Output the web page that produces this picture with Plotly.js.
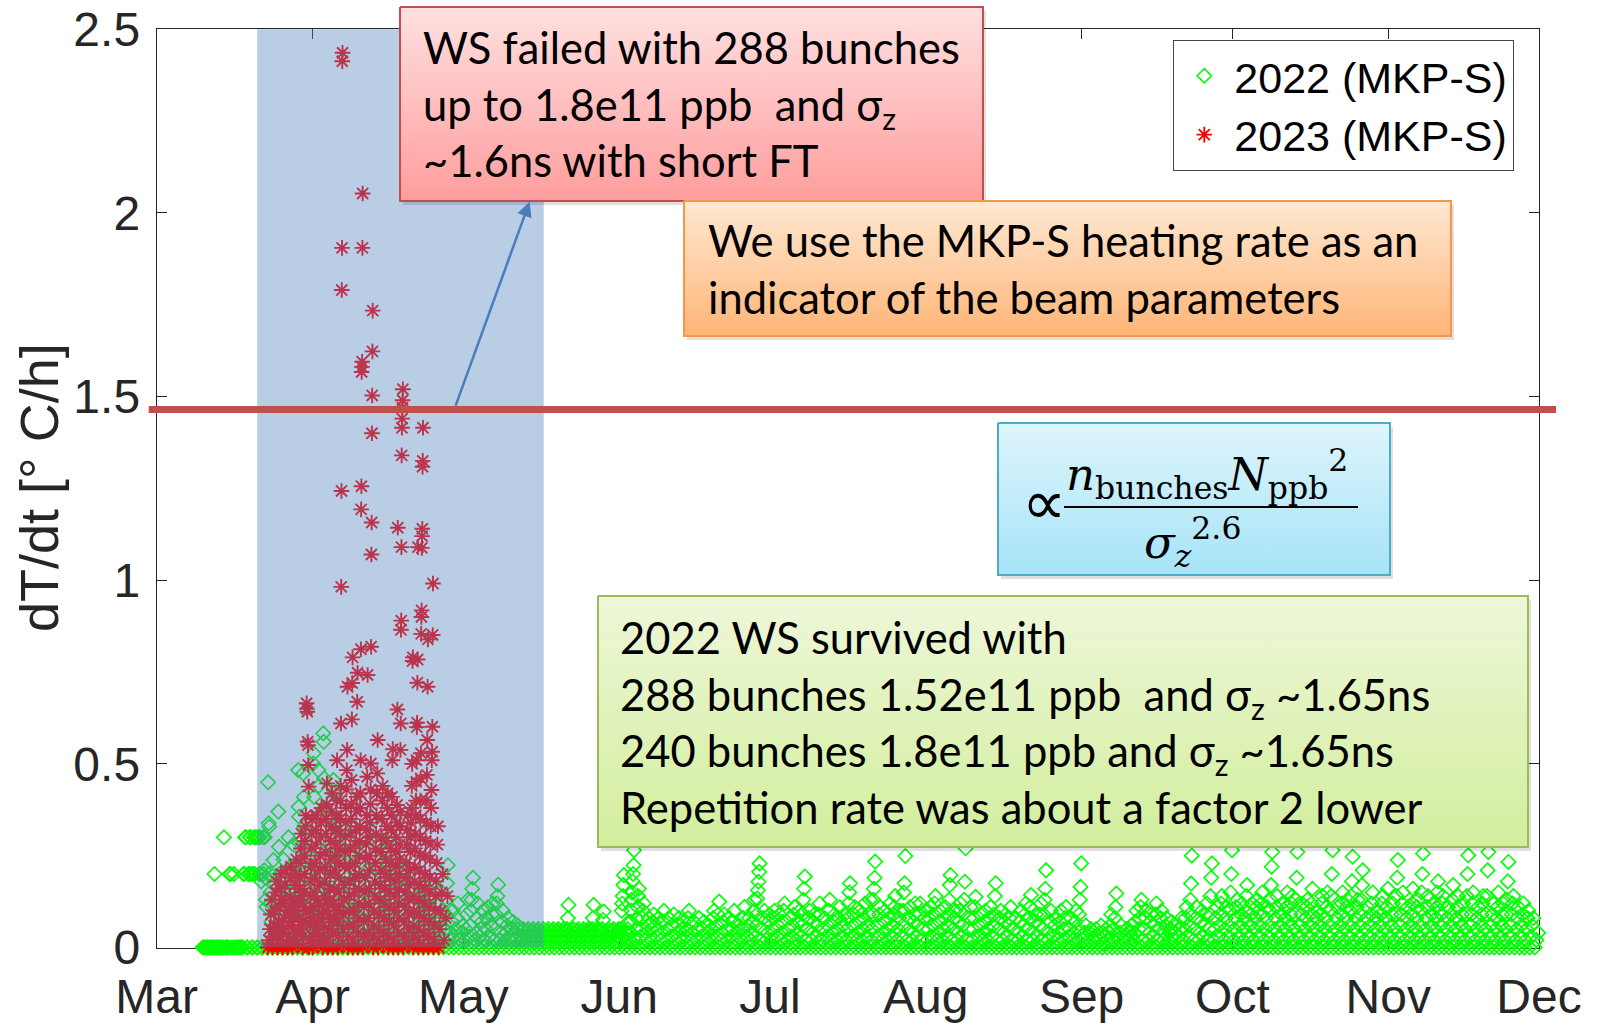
<!DOCTYPE html>
<html><head><meta charset="utf-8">
<script src="https://cdn.plot.ly/plotly-3.0.1.min.js"></script>
<style>html,body{margin:0;padding:0;background:#fff;}#chart{width:1597px;height:1023px;}</style>
</head><body><div id="chart"></div>
<script>
// ================= DATA =================
const month_labels = ['Mar','Apr','May','Jun','Jul','Aug','Sep','Oct','Nov','Dec'];
const month_starts = ['2023-03-01','2023-04-01','2023-05-01','2023-06-01','2023-07-01','2023-08-01','2023-09-01','2023-10-01','2023-11-01','2023-12-01'];
const y_ticks = [0, 0.5, 1, 1.5, 2, 2.5];
const y_ticklabels = ['0', '0.5', '1', '1.5', '2', '2.5'];
const shade_start = '2023-03-21';
const shade_end = '2023-05-17';
const threshold = 1.465;
const series_names = ['2022 (MKP-S)', '2023 (MKP-S)'];

// 2022 (MKP-S): readings per day of each month (dT/dt, deg C/h)
const g22_mar = [[],[],[],[],[],[],[],[],[],
 [0,0,0,0],[0,0,0,0],[0,0,0.2,0,0],[0,0,0,0],[0,0.3,0,0],[0,0,0.2,0.2,0],[0,0.2,0,0],[0,0,0,0],
 [0,0.2,0.2,0.3,0.3,0],[0,0.2,0.2,0.3,0.3,0.2,0],[0,0.2,0.3,0.2,0.3,0.3,0],[0,0.3,0.2,0.3,0.2,0.18,0],
 [0,0.3,0.2,0.21,0.3,0.19,0.13,0.11,0],[0,0.45,0.338,0.329,0.202,0.15,0.12,0.07,0],[0,0.238,0.17,0.1,0.06,0.03,0],
 [0,0.37,0.274,0.2,0.14,0.09,0.05,0],[0,0.24,0.16,0.11,0.07,0.03,0],[0,0.3,0.21,0.15,0.1,0.05,0],
 [0,0.28,0.22,0.16,0.12,0.08,0.04,0],[0,0.483,0.383,0.356,0.284,0.229,0.18,0.13,0.08,0.03,0],
 [0,0.474,0.41,0.33,0.26,0.19,0.14,0.09,0.05,0],[0,0.32,0.25,0.2,0.15,0.1,0.06,0]];
const g22_apr = [
 [0,0.501,0.529,0.41,0.3,0.22,0.17,0.12,0.08,0.04,0],[0,0.483,0.44,0.36,0.27,0.2,0.15,0.1,0.05,0],
 [0,0.583,0.56,0.461,0.38,0.29,0.22,0.16,0.11,0.06,0],[0,0.35,0.28,0.21,0.15,0.1,0.05,0],
 [0,0.456,0.42,0.33,0.25,0.18,0.12,0.07,0.03,0],[0,0.31,0.24,0.18,0.12,0.07,0],[0,0.26,0.2,0.14,0.09,0.05,0],
 [0,0.29,0.22,0.16,0.1,0.06,0],[0,0.33,0.25,0.18,0.12,0.07,0.03,0],[0,0.24,0.18,0.12,0.08,0.04,0],
 [0,0.02,0.06,0.1,0.15,0.21,0.27],[0,0.04,0.08,0.13,0.19,0.3,0.35],[0,0.03,0.06,0.11,0.16,0.22],
 [0,0.02,0.05,0.09,0.14,0.2,0.26],[0,0.03,0.07,0.12,0.17,0.23,0.29],[0,0.02,0.06,0.1,0.15,0.19],
 [0,0.04,0.08,0.13,0.18,0.24],[0,0.03,0.06,0.1,0.14,0.2],[0,0.02,0.05,0.09,0.13,0.18,0.22],
 [0,0.03,0.07,0.11,0.16],[0,0.02,0.06,0.1,0.14,0.19],[0,0.03,0.05,0.09,0.12,0.17],
 [0,0.02,0.05,0.08,0.12,0.16],[0,0.03,0.06,0.1,0.14],[0,0.02,0.05,0.08,0.12,0.15],
 [0,0.03,0.06,0.075,0.1],[0,0.02,0.05,0.09,0.13,0.175,0.224],[0,0.02,0.04,0.07,0.1],
 [0,0.03,0.05,0.08,0.12],[0,0.02,0.04,0.06]];
const g22_may = [
 [0,0.02,0.05,0.09,0.13],[0,0.03,0.06,0.1,0.13,0.16,0.19],[0,0.02,0.04,0.08,0.12],[0,0.03,0.05,0.07,0.1],
 [0,0.02,0.05,0.08,0.11],[0,0.03,0.06,0.09,0.12],[0,0.02,0.05,0.09,0.12,0.14,0.171],[0,0.02,0.04,0.07,0.1],
 [0,0.02,0.04,0.06,0.08],[0,0.02,0.03,0.05,0.07],[0,0.02,0.04,0.05,0.06],[0,0.015,0.03,0.045,0.05],
 [0,0.015,0.03,0.045,0.05],[0,0.015,0.03,0.045,0.05],[0,0.015,0.03,0.045,0.05],[0,0.015,0.03,0.045,0.05],
 [0,0.015,0.03,0.045,0.05],[0,0.015,0.03,0.045,0.05],[0,0.015,0.03,0.045,0.05],[0,0.015,0.03,0.045,0.05],
 [0,0.015,0.03,0.045,0.05,0.08,0.116],[0,0.015,0.03,0.045,0.05],[0,0.015,0.03,0.045,0.05],[0,0.015,0.03,0.045,0.05],
 [0,0.015,0.03,0.045,0.05],[0,0.015,0.03,0.045,0.05,0.08,0.116],[0,0.015,0.03,0.045,0.05],
 [0,0.015,0.03,0.045,0.05,0.075,0.098],[0,0.015,0.03,0.045,0.05],[0,0.015,0.03,0.045,0.05],[0,0.015,0.03,0.045,0.05]];
const g22_jun = [
 [0,0.02,0.04,0.05,0.1,0.12,0.14,0.17,0.197],[0,0.02,0.04,0.05,0.07],[0,0.02,0.04,0.07,0.1,0.13,0.15,0.18,0.2,0.224,0.265],
 [0,0.02,0.05,0.08,0.11,0.14,0.16],[0,0.03,0.05,0.08,0.1,0.12],[0,0.02,0.04,0.06,0.08],[0,0.02,0.05,0.07,0.09],
 [0,0.03,0.05,0.08],[0,0.02,0.04,0.07,0.1],[0,0.02,0.05,0.08],[0,0.03,0.06,0.09],[0,0.02,0.04,0.06,0.08],
 [0,0.02,0.05,0.07],[0,0.03,0.05,0.08,0.1],[0,0.02,0.04,0.07],[0,0.02,0.05,0.08],[0,0.03,0.05,0.07],
 [0,0.02,0.04,0.06],[0,0.02,0.05,0.08,0.1],[0,0.03,0.06,0.09,0.125],[0,0.02,0.04,0.07,0.09],[0,0.02,0.05,0.08],
 [0,0.03,0.05,0.07,0.1],[0,0.02,0.04,0.06],[0,0.02,0.05,0.08,0.11],[0,0.03,0.06,0.08],[0,0.02,0.04,0.07,0.1,0.13],
 [0,0.03,0.06,0.09,0.133,0.156,0.179,0.206,0.229],[0,0.02,0.05,0.08,0.1],[0,0.02,0.04,0.07,0.09]];
const g22_jul = [
 [0,0.02,0.05,0.08,0.1],[0,0.03,0.06,0.09],[0,0.02,0.04,0.07,0.1,0.12],[0,0.02,0.05,0.08],[0,0.03,0.06,0.09,0.11],
 [0,0.02,0.04,0.07,0.1],[0,0.03,0.06,0.09,0.13,0.16,0.193],[0,0.02,0.05,0.08,0.1],[0,0.02,0.04,0.07,0.09],
 [0,0.03,0.06,0.09,0.12],[0,0.02,0.05,0.08],[0,0.03,0.06,0.1,0.13],[0,0.02,0.04,0.07,0.09],[0,0.02,0.05,0.08,0.11],
 [0,0.03,0.06,0.09],[0,0.02,0.05,0.08,0.12,0.15,0.175],[0,0.03,0.06,0.09,0.11],[0,0.02,0.04,0.07,0.1],
 [0,0.02,0.05,0.08,0.12],[0,0.03,0.06,0.09,0.13],[0,0.02,0.05,0.09,0.13,0.16,0.19,0.234],[0,0.03,0.06,0.09,0.11],
 [0,0.02,0.04,0.07,0.1],[0,0.02,0.05,0.08,0.12],[0,0.03,0.06,0.09,0.11,0.14],[0,0.02,0.05,0.08,0.1],
 [0,0.03,0.06,0.1,0.15,0.175,0.249],[0,0.02,0.05,0.08,0.11],[0,0.02,0.04,0.07,0.09,0.12],[0,0.03,0.06,0.09,0.12],
 [0,0.02,0.05,0.08,0.1]];
const g22_aug = [
 [0,0.02,0.05,0.08,0.11],[0,0.03,0.06,0.09,0.12,0.14],[0,0.02,0.04,0.07,0.1],[0,0.02,0.05,0.08,0.11],
 [0,0.03,0.06,0.09,0.13,0.17,0.197],[0,0.02,0.05,0.08,0.1],[0,0.02,0.04,0.07,0.1,0.12],[0,0.03,0.06,0.09,0.13,0.179,0.27],
 [0,0.02,0.05,0.08,0.11],[0,0.02,0.05,0.08,0.11,0.138],[0,0.03,0.06,0.09],[0,0.02,0.04,0.07,0.1],
 [0,0.02,0.05,0.08,0.11],[0,0.03,0.06,0.09,0.14,0.175],[0,0.02,0.05,0.08,0.1],[0,0.02,0.04,0.07,0.09],
 [0,0.03,0.06,0.08,0.11],[0,0.02,0.05,0.08],[0,0.02,0.04,0.07,0.1],[0,0.03,0.06,0.09,0.12],
 [0,0.02,0.05,0.08,0.11,0.143],[0,0.02,0.04,0.07,0.09],[0,0.03,0.06,0.09,0.12],[0,0.02,0.05,0.09,0.13,0.16,0.21],
 [0,0.02,0.04,0.07,0.1],[0,0.03,0.06,0.08],[0,0.02,0.04,0.07,0.1],[0,0.02,0.05,0.08,0.11],[0,0.03,0.05,0.08],
 [0,0.02,0.04,0.07,0.1],[0,0.02,0.05,0.09,0.13,0.165,0.229]];
const g22_sep = [
 [0,0.02,0.04,0.06],[0,0.02,0.04,0.05],[0,0.02,0.03,0.05],[0,0.02,0.04,0.06],[0,0.01,0.03,0.05],
 [0,0.02,0.04,0.06,0.09],[0,0.02,0.05,0.08,0.11,0.147],[0,0.02,0.04,0.06],[0,0.02,0.03,0.05],[0,0.02,0.04,0.06],
 [0,0.02,0.04,0.07,0.1],[0,0.03,0.05,0.08,0.11,0.13],[0,0.02,0.05,0.08,0.1],[0,0.02,0.04,0.07,0.09],
 [0,0.03,0.06,0.09,0.12],[0,0.02,0.05,0.08,0.1],[0,0.02,0.04,0.06,0.08],[0,0.02,0.04,0.05,0.07],[0,0.02,0.04,0.06],
 [0,0.03,0.05,0.08],[0,0.02,0.05,0.08,0.11],[0,0.03,0.06,0.09,0.13,0.174,0.25],[0,0.02,0.05,0.08,0.11],
 [0,0.02,0.04,0.07,0.1],[0,0.03,0.06,0.09,0.12],[0,0.02,0.05,0.09,0.14,0.19,0.229],[0,0.02,0.05,0.08,0.11],
 [0,0.03,0.06,0.09,0.12,0.14],[0,0.02,0.05,0.08,0.11],[0,0.03,0.06,0.1,0.15,0.2,0.265]];
const g22_oct = [
 [0,0.02,0.05,0.08,0.11,0.13],[0,0.03,0.06,0.09,0.12],[0,0.02,0.05,0.08,0.1,0.14,0.17],[0,0.03,0.06,0.09,0.12],
 [0,0.02,0.05,0.08,0.11,0.13],[0,0.03,0.06,0.09,0.12,0.15],[0,0.02,0.05,0.08,0.11],[0,0.03,0.06,0.1,0.13,0.17,0.22,0.26],
 [0,0.02,0.05,0.08,0.11,0.14],[0,0.03,0.06,0.09,0.12],[0,0.02,0.05,0.08,0.11,0.15],[0,0.03,0.06,0.09,0.12,0.14],
 [0,0.02,0.05,0.09,0.13,0.19,0.26],[0,0.03,0.06,0.09,0.12],[0,0.02,0.05,0.08,0.11,0.13],[0,0.03,0.06,0.09,0.12,0.16],
 [0,0.02,0.05,0.08,0.1],[0,0.03,0.06,0.09,0.12,0.14],[0,0.02,0.05,0.08,0.11,0.15],[0,0.03,0.06,0.1,0.14,0.2,0.265],
 [0,0.02,0.05,0.08,0.11],[0,0.03,0.06,0.09,0.12,0.15],[0,0.02,0.05,0.08,0.11,0.13],[0,0.03,0.06,0.1,0.14,0.18,0.247],
 [0,0.02,0.05,0.08,0.11,0.13],[0,0.03,0.06,0.09,0.13,0.17,0.21],[0,0.02,0.05,0.08,0.11],[0,0.03,0.06,0.09,0.12,0.15],
 [0,0.02,0.05,0.08,0.1],[0,0.03,0.06,0.09,0.12,0.14],[0,0.02,0.05,0.08,0.11,0.16]];
const g22_nov = [
 [0,0.03,0.06,0.09,0.12],[0,0.02,0.05,0.09,0.14,0.19,0.238],[0,0.03,0.06,0.09,0.12,0.15],[0,0.02,0.05,0.08,0.11],
 [0,0.03,0.06,0.09,0.12,0.16],[0,0.02,0.05,0.08,0.11,0.13],[0,0.03,0.06,0.1,0.15,0.2,0.256],[0,0.02,0.05,0.08,0.11,0.14],
 [0,0.03,0.06,0.09,0.12],[0,0.02,0.05,0.08,0.11,0.15,0.18],[0,0.03,0.06,0.09,0.12,0.14],[0,0.02,0.05,0.08,0.11],
 [0,0.03,0.06,0.09,0.13,0.17],[0,0.02,0.05,0.08,0.11,0.14],[0,0.03,0.06,0.09,0.12],[0,0.02,0.05,0.09,0.14,0.2,0.251],
 [0,0.03,0.06,0.09,0.12,0.15],[0,0.02,0.05,0.08,0.11],[0,0.03,0.06,0.09,0.12,0.14],[0,0.02,0.05,0.09,0.14,0.21,0.26],
 [0,0.03,0.06,0.09,0.12],[0,0.02,0.05,0.08,0.11,0.15],[0,0.03,0.06,0.09,0.12],[0,0.02,0.05,0.09,0.13,0.18,0.233],
 [0,0.03,0.06,0.09,0.12,0.14],[0,0.02,0.05,0.08,0.11],[0,0.03,0.06,0.09,0.12],[0,0.02,0.05,0.08,0.1],
 [0,0.03,0.06,0.08],[0,0.02,0.04]];

// 2023 (MKP-S): readings per day
const r23_mar = [[],[],[],[],[],[],[],[],[],[],[],[],[],[],[],[],[],[],[],[],[],[],
 [0,0.02,0.05,0.09,0.13],[0,0.03,0.06,0.1,0.15,0.18,0.04],[0,0.02,0.07,0.11,0.16,0.2,0.13,0.05],
 [0,0.04,0.08,0.12,0.17,0.21,0.09,0.01],[0,0.03,0.06,0.1,0.14,0.19,0.22,0.12,0.07],
 [0,0.02,0.05,0.09,0.13,0.17,0.2,0.24,0.11,0.04],[0.01,0.04,0.08,0.12,0.16,0.19,0.23,0.27,0.31,0.14,0.06],
 [0,0.03,0.07,0.11,0.15,0.2,0.25,0.29,0.33,0.36,0.1,0.665,0.65,0.642],
 [0.56,0.551,0.497,0.438,0,0.02,0.06,0.1,0.14,0.18,0.22,0.27,0.31,0.35,0.08]];
const r23_apr = [
 [0,0.03,0.07,0.11,0.15,0.19,0.23,0.28,0.32,0.36,0.05,0.13],
 [0.01,0.04,0.08,0.12,0.17,0.21,0.25,0.3,0.34,0.38,0.09,0.02],
 [0,0.03,0.06,0.1,0.14,0.18,0.22,0.26,0.31,0.35,0.39,0.447,0.12],
 [0,0.02,0.05,0.09,0.13,0.16,0.2,0.24,0.29,0.33,0.37,0.42,0.07],
 [0,0.04,0.08,0.12,0.16,0.21,0.25,0.28,0.32,0.36,0.4,0.51,0.1],
 [0,0.03,0.07,0.11,0.15,0.19,0.23,0.27,0.31,0.35,0.4,0.44,0.61,0.982,1.243,1.79,1.905,2.413,2.436],
 [0.01,0.05,0.09,0.13,0.17,0.22,0.26,0.3,0.34,0.38,0.43,0.483,0.538,0.71],
 [0,0.03,0.06,0.1,0.14,0.18,0.22,0.27,0.31,0.35,0.39,0.456,0.621,0.72,0.79],
 [0,0.02,0.06,0.1,0.15,0.19,0.23,0.28,0.32,0.37,0.41,0.669,0.748],
 [0,0.04,0.08,0.12,0.16,0.2,0.25,0.29,0.33,0.38,0.42,0.51,0.812,1.193,1.256,1.567,1.581,1.595,1.905,2.053],
 [0,0.03,0.07,0.11,0.15,0.19,0.24,0.28,0.32,0.36,0.465,0.742],
 [0.01,0.04,0.08,0.12,0.16,0.21,0.25,0.3,0.34,0.39,0.43,0.501,0.819,1.07,1.157,1.4,1.503,1.623,1.734],
 [0,0.03,0.06,0.1,0.14,0.18,0.23,0.27,0.31,0.36,0.42,0.474,0.565],
 [0,0.02,0.05,0.09,0.13,0.17,0.21,0.26,0.3,0.35,0.4,0.44],
 [0.01,0.04,0.08,0.12,0.16,0.2,0.24,0.29,0.33,0.38,0.42],
 [0,0.03,0.07,0.11,0.15,0.19,0.23,0.27,0.32,0.36,0.41,0.51,0.54],
 [0,0.02,0.06,0.1,0.14,0.18,0.22,0.26,0.3,0.34,0.388,0.648,1.143],
 [0,0.04,0.08,0.12,0.16,0.2,0.24,0.28,0.33,0.37,0.538,0.61,0.865,0.89,1.09,1.34,1.415,1.44,1.47,1.49,1.52],
 [0,0.03,0.07,0.11,0.15,0.19,0.23,0.28,0.32,0.36],
 [0.01,0.05,0.09,0.13,0.17,0.21,0.26,0.3,0.34,0.38,0.44,0.5,0.78,0.79],
 [0,0.03,0.06,0.1,0.14,0.18,0.22,0.27,0.31,0.36,0.4,0.451,0.51,0.6,0.612,0.721,0.784,1.09],
 [0,0.02,0.05,0.09,0.13,0.17,0.21,0.25,0.3,0.35,0.4,0.46,0.529,0.854,0.9,0.918,1.088,1.12,1.14,1.309,1.325,1.415],
 [0,0.04,0.08,0.12,0.16,0.2,0.25,0.29,0.34,0.401,0.47,0.565,0.71,0.839],
 [0,0.03,0.07,0.11,0.15,0.19,0.24,0.28,0.33,0.38,0.429,0.51,0.533,0.601,0.851,0.991],
 [0,0.02,0.06,0.1,0.14,0.18,0.23,0.28,0.33],
 [0,0.05,0.1,0.15,0.2],
 [0.02,0.08,0.14],[],[],[]];

// ================= BUILD =================
function expand(month, lists, out) {
  lists.forEach(function (vals, i) {
    var n = vals.length;
    vals.forEach(function (v, k) {
      var t = Date.UTC(2023, month, i + 1) + (k + 0.5) / n * 86400000;
      out.x.push(new Date(t).toISOString().slice(0, 19).replace('T', ' '));
      out.y.push(v);
    });
  });
}
var g = {x: [], y: []};
[[2, g22_mar], [3, g22_apr], [4, g22_may], [5, g22_jun], [6, g22_jul], [7, g22_aug], [8, g22_sep], [9, g22_oct], [10, g22_nov]]
  .forEach(function (p) { expand(p[0], p[1], g); });
var r = {x: [], y: []};
[[2, r23_mar], [3, r23_apr]].forEach(function (p) { expand(p[0], p[1], r); });

var W = 1597, H = 1023;
var plotL = 156.7, plotR = 1539, plotT = 29.3, plotB = 947.5;

var traces = [
  {type: 'scatter', mode: 'markers', name: series_names[0], x: g.x, y: g.y, cliponaxis: false,
   marker: {symbol: 'diamond-open', size: 11, color: '#00FF00', line: {color: '#00FF00', width: 1.6}}, hoverinfo: 'skip'},
  {type: 'scatter', mode: 'markers', name: series_names[1], x: r.x, y: r.y, cliponaxis: false,
   marker: {symbol: 'asterisk-open', size: 13, color: '#FF0000', line: {color: '#FF0000', width: 1.9}}, hoverinfo: 'skip'},
  {type: 'scatter', mode: 'lines', x: [shade_start, shade_end, shade_end, shade_start, shade_start], y: [0, 0, 2.6, 2.6, 0],
   fill: 'toself', fillcolor: 'rgba(79,129,189,0.4)', line: {width: 0, color: 'rgba(0,0,0,0)'}, showlegend: false, hoverinfo: 'skip'}
];

// callout boxes on a full-page overlay (pixel coordinates)
var boxes = [
  {x0: 400, x1: 983, y0: 7, y1: 201, top: '#FFE0E0', bot: '#FF9D9D', line: '#C0504D'},
  {x0: 684, x1: 1451, y0: 201, y1: 336, top: '#FFE8D2', bot: '#FFB577', line: '#F79646'},
  {x0: 998, x1: 1390, y0: 423, y1: 575, top: '#DEF5FC', bot: '#A6E3F8', line: '#4BACC6'},
  {x0: 598, x1: 1528, y0: 596, y1: 847, top: '#EEF7D9', bot: '#D2EE9C', line: '#9BBB59'}
];
boxes.forEach(function (b) {
  traces.push({type: 'scatter', mode: 'lines', xaxis: 'x2', yaxis: 'y2',
    x: [b.x0 + 3, b.x1 + 3, b.x1 + 3, b.x0 + 3, b.x0 + 3], y: [b.y0 + 4, b.y0 + 4, b.y1 + 4, b.y1 + 4, b.y0 + 4],
    fill: 'toself', fillcolor: 'rgba(0,0,0,0.12)', line: {width: 0, color: 'rgba(0,0,0,0)'}, showlegend: false, hoverinfo: 'skip'});
  traces.push({type: 'scatter', mode: 'lines', xaxis: 'x2', yaxis: 'y2',
    x: [b.x0, b.x1, b.x1, b.x0, b.x0], y: [b.y0, b.y0, b.y1, b.y1, b.y0],
    fill: 'toself', fillgradient: {type: 'vertical', colorscale: [[0, b.bot], [1, b.top]]},
    line: {width: 2, color: b.line}, showlegend: false, hoverinfo: 'skip'});
});
// fraction bar of the formula
traces.push({type: 'scatter', mode: 'lines', xaxis: 'x2', yaxis: 'y2', x: [1064, 1358], y: [507, 507],
  line: {width: 2.2, color: '#000'}, showlegend: false, hoverinfo: 'skip'});

var boxFont = {family: 'Lato, "Open Sans", sans-serif', size: 43.5, color: '#000'};
var mathFont = {family: '"DejaVu Serif", "Liberation Serif", serif', size: 45, color: '#000'};
var annotations = [
  {xref: 'x2', yref: 'y2', x: 421, y: 103, xanchor: 'left', yanchor: 'middle', align: 'left', showarrow: false, font: boxFont,
   text: 'WS failed with 288 bunches<br>up to 1.8e11 ppb &nbsp;and σ<sub>z</sub><br>~1.6ns with short FT'},
  {xref: 'x2', yref: 'y2', x: 706, y: 268, xanchor: 'left', yanchor: 'middle', align: 'left', showarrow: false, font: boxFont,
   text: 'We use the MKP-S heating rate as an<br>indicator of the beam parameters'},
  {xref: 'x2', yref: 'y2', x: 618, y: 721.5, xanchor: 'left', yanchor: 'middle', align: 'left', showarrow: false, font: boxFont,
   text: '2022 WS survived with<br>288 bunches 1.52e11 ppb &nbsp;and σ<sub>z</sub> ~1.65ns<br>240 bunches 1.8e11 ppb and σ<sub>z</sub> ~1.65ns<br>Repetition rate was about a factor 2 lower'},
  {xref: 'x2', yref: 'y2', x: 1044, y: 502, xanchor: 'center', yanchor: 'middle', showarrow: false,
   font: {family: '"DejaVu Sans", sans-serif', size: 62, color: '#000'}, text: '∝'},
  {xref: 'x2', yref: 'y2', x: 1064, y: 474, xanchor: 'left', yanchor: 'middle', showarrow: false, font: mathFont,
   text: '<i>n</i><sub>bunches</sub><i>N</i><sub>ppb</sub><sup>2</sup>'},
  {xref: 'x2', yref: 'y2', x: 1142, y: 542, xanchor: 'left', yanchor: 'middle', showarrow: false, font: mathFont,
   text: '<i>σ</i><sub><i>z</i></sub><sup>2.6</sup>'},
  {xref: 'x2', yref: 'y2', x: 39, y: 488, xanchor: 'center', yanchor: 'middle', textangle: -90, showarrow: false,
   font: {family: '"Liberation Sans", Arial, sans-serif', size: 54, color: '#262626'}, text: 'dT/dt [° C/h]'},
  {xref: 'x2', yref: 'y2', x: 529.6, y: 201.7, axref: 'x2', ayref: 'y2', ax: 455, ay: 407.4, text: '', showarrow: true,
   arrowhead: 2, arrowsize: 1.2, arrowwidth: 2.5, arrowcolor: '#4A7EBB', standoff: 0}
];

var tickFont = {family: '"Liberation Sans", Arial, sans-serif', size: 48, color: '#262626'};
var layout = {
  width: W, height: H, margin: {l: 0, r: 0, t: 0, b: 0, pad: 0},
  paper_bgcolor: '#FFFFFF', plot_bgcolor: 'rgba(0,0,0,0)', hovermode: false,
  showlegend: true,
  legend: {x: 1173 / W, y: 1 - 40 / H, xanchor: 'left', yanchor: 'top', bgcolor: '#FFFFFF', bordercolor: '#444', borderwidth: 1.3,
    font: {family: '"Liberation Sans", Arial, sans-serif', size: 43, color: '#000'}, itemwidth: 50, tracegroupgap: 0},
  xaxis: {type: 'date', domain: [plotL / W, plotR / W], range: [month_starts[0], month_starts[month_starts.length - 1]],
    tickvals: month_starts, ticktext: month_labels, ticks: 'inside', ticklen: 10, tickcolor: '#262626', tickwidth: 1,
    showline: true, linecolor: '#262626', linewidth: 1, mirror: 'ticks', showgrid: false, zeroline: false,
    tickfont: tickFont, layer: 'below traces', anchor: 'y', ticklabelstandoff: 7, fixedrange: true},
  yaxis: {domain: [1 - plotB / H, 1 - plotT / H], range: [0, 2.5], tickvals: y_ticks, ticktext: y_ticklabels,
    ticks: 'inside', ticklen: 10, tickcolor: '#262626', tickwidth: 1, showline: true, linecolor: '#262626', linewidth: 1,
    mirror: 'ticks', showgrid: false, zeroline: false, tickfont: tickFont, layer: 'below traces', anchor: 'x',
    ticklabelstandoff: 6, fixedrange: true},
  xaxis2: {domain: [0, 1], range: [0, W], visible: false, anchor: 'y2', fixedrange: true},
  yaxis2: {domain: [0, 1], range: [H, 0], visible: false, anchor: 'x2', fixedrange: true},
  shapes: [
    {type: 'line', xref: 'paper', yref: 'y', x0: 148.7 / W, x1: 1556 / W, y0: threshold, y1: threshold,
     line: {color: '#C0504D', width: 7}, layer: 'above'}
  ],
  annotations: annotations
};

Plotly.newPlot('chart', traces, layout, {displayModeBar: false, staticPlot: true});
</script>
</body></html>
